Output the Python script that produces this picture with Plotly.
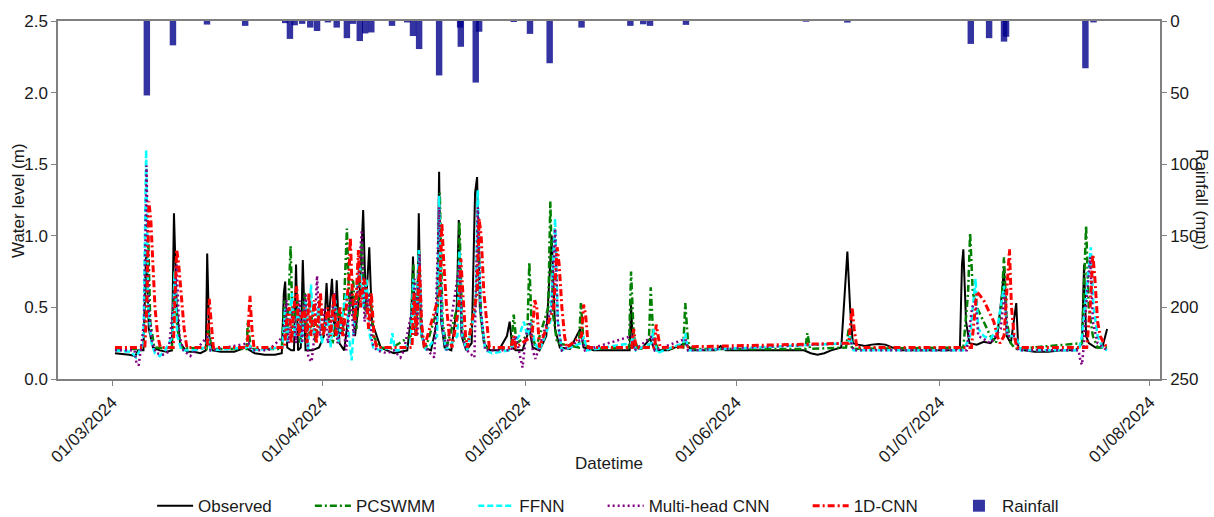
import pandas as pd
import plotly.graph_objects as go

# ---------------- data (day offsets from 2024-03-01) ----------------
obs_days = [0.4, 1.5, 2.5, 3.4, 3.8, 4.6, 5.0, 5.4, 6.0, 7.0, 8.0, 8.8, 9.1, 9.5, 10.0, 11.0, 12.0, 13.0, 13.8, 14.0,
            14.3, 14.8, 16.0, 18.0, 19.6, 20.3, 21.0, 22.5, 24.0, 25.0, 25.3, 25.5, 25.8, 26.4, 26.8, 27.1, 27.4, 27.8,
            28.1, 28.5, 29.5, 30.5, 31.2, 31.6, 31.9, 32.4, 32.8, 33.1, 33.5, 34.2, 35.3, 35.8, 36.5, 37.0, 37.4, 37.9,
            38.3, 39.0, 39.6, 40.5, 41.5, 42.5, 43.5, 44.1, 44.35, 44.7, 45.0, 45.2, 45.5, 46.0, 47.0, 47.9, 48.2, 48.5,
            49.0, 50.0, 50.8, 51.1, 51.5, 52.2, 53.0, 53.5, 53.8, 54.2, 54.8, 55.7, 57.0, 58.2, 58.6, 59.0, 59.5, 60.5,
            61.5, 62.0, 63.0, 64.0, 64.8, 65.3, 66.0, 67.5, 69.0, 69.5, 71.0, 74.0, 76.3, 76.5, 76.8, 78.0, 79.3, 80.0,
            82.0, 84.5, 85.5, 89.0, 89.7, 90.5, 95.0, 100.0, 102.0, 103.0, 104.0, 105.0, 106.0, 107.5, 108.0, 108.4,
            108.8, 109.2, 110.0, 111.0, 112.0, 113.0, 114.0, 115.0, 116.5, 120.0, 124.0, 125.0, 125.3, 125.5, 125.9,
            126.4, 127.5, 128.5, 129.5, 130.5, 131.2, 131.5, 131.9, 132.5, 133.0, 133.3, 133.6, 134.5, 136.0, 138.0,
            140.0, 142.0, 142.5, 143.0, 143.3, 143.6, 144.0, 145.0, 146.0, 146.5, 146.7]
obs_vals = [0.18, 0.175, 0.17, 0.16, 0.2, 0.2, 0.9, 0.35, 0.22, 0.2, 0.19, 0.2, 1.157, 0.5, 0.25, 0.19, 0.19, 0.18, 0.2,
            0.877, 0.3, 0.2, 0.19, 0.19, 0.22, 0.2, 0.18, 0.17, 0.17, 0.18, 0.6, 0.68, 0.22, 0.2, 0.2, 0.8, 0.2, 0.22,
            0.83, 0.2, 0.2, 0.22, 0.3, 0.67, 0.4, 0.7, 0.3, 0.69, 0.25, 0.2, 0.62, 0.3, 0.6, 1.18, 0.5, 0.92, 0.4, 0.3,
            0.22, 0.2, 0.18, 0.19, 0.2, 0.45, 0.855, 0.3, 0.5, 1.157, 0.35, 0.22, 0.2, 0.4, 1.447, 0.4, 0.22, 0.2, 0.5,
            1.11, 0.3, 0.2, 0.25, 1.3, 1.41, 0.5, 0.25, 0.2, 0.2, 0.3, 0.4, 0.22, 0.2, 0.2, 0.35, 0.22, 0.2, 0.3, 1.0,
            0.35, 0.22, 0.21, 0.35, 0.22, 0.2, 0.2, 0.2, 0.52, 0.22, 0.21, 0.28, 0.2, 0.2, 0.25, 0.2, 0.2, 0.23, 0.2,
            0.2, 0.2, 0.2, 0.18, 0.17, 0.18, 0.2, 0.22, 0.6, 0.89, 0.5, 0.25, 0.24, 0.23, 0.24, 0.245, 0.24, 0.22, 0.2,
            0.2, 0.2, 0.22, 0.8, 0.906, 0.4, 0.25, 0.24, 0.26, 0.25, 0.3, 0.6, 0.78, 0.3, 0.25, 0.45, 0.53, 0.22, 0.2,
            0.19, 0.19, 0.2, 0.2, 0.22, 0.25, 0.8, 0.3, 0.25, 0.22, 0.22, 0.3, 0.35]

pcswmm_days = [0.4, 4.6, 5.0, 5.3, 5.6, 6.2, 8.8, 9.2, 9.6, 10.2, 13.9, 14.2, 14.6, 19.8, 20.0, 20.4, 25.0, 25.4, 25.8,
               26.3, 26.6, 27.3, 27.7, 28.4, 28.8, 29.5, 30.0, 30.6, 31.0, 32.0, 32.5, 33.4, 34.0, 34.6, 35.0, 35.5,
               36.0, 36.8, 37.3, 38.0, 38.5, 39.5, 41.0, 44.0, 44.4, 44.8, 45.2, 45.6, 46.2, 48.0, 48.3, 48.7, 49.3,
               50.9, 51.2, 51.6, 52.3, 53.7, 54.0, 54.4, 55.0, 58.8, 59.2, 59.6, 61.2, 61.5, 61.9, 62.5, 64.3, 64.6,
               65.0, 65.6, 68.8, 69.1, 69.5, 70.5, 76.2, 76.5, 76.9, 77.5, 79.1, 79.4, 79.8, 80.5, 84.2, 84.5, 84.9,
               85.5, 102.2, 102.5, 102.9, 108.2, 108.6, 109.1, 125.5, 126.2, 126.5, 126.9, 127.5, 128.5, 129.5, 130.3,
               131.1, 131.5, 131.9, 132.5, 133.2, 143.0, 143.3, 143.6, 144.0, 144.6, 145.3, 146.7]
pcswmm_vals = [0.21, 0.21, 0.5, 1.0, 0.4, 0.22, 0.21, 0.75, 0.35, 0.22, 0.21, 0.35, 0.21, 0.21, 0.41, 0.21, 0.21, 0.55,
               0.3, 0.93, 0.35, 0.55, 0.25, 0.6, 0.25, 0.45, 0.25, 0.55, 0.3, 0.45, 0.25, 0.5, 0.3, 1.05, 0.45, 0.7,
               0.35, 0.95, 0.45, 0.6, 0.3, 0.22, 0.21, 0.3, 0.8, 0.3, 0.9, 0.3, 0.21, 0.5, 1.3, 0.4, 0.22, 0.5, 1.1,
               0.35, 0.21, 0.6, 1.0, 0.4, 0.22, 0.21, 0.45, 0.25, 0.3, 0.815, 0.3, 0.22, 0.5, 1.24, 0.45, 0.25, 0.22,
               0.53, 0.25, 0.21, 0.22, 0.75, 0.3, 0.21, 0.22, 0.64, 0.28, 0.21, 0.22, 0.53, 0.26, 0.21, 0.21, 0.32,
               0.21, 0.22, 0.35, 0.21, 0.22, 0.6, 1.02, 0.6, 0.5, 0.4, 0.3, 0.25, 0.5, 0.85, 0.4, 0.25, 0.21, 0.25,
               0.7, 1.07, 0.5, 0.3, 0.22, 0.22]

ffnn_days = [0.4, 2.8, 3.5, 4.0, 4.6, 5.0, 5.3, 5.8, 6.3, 7.0, 7.8, 8.9, 9.2, 9.6, 10.2, 12.0, 13.8, 14.1, 14.5, 19.8,
             20.1, 20.5, 25.1, 25.5, 25.8, 26.5, 26.9, 27.5, 27.9, 28.5, 28.9, 29.3, 29.7, 30.4, 30.9, 31.7, 32.2,
             32.9, 33.3, 34.5, 34.9, 35.3, 35.8, 36.5, 37.0, 37.5, 38.0, 38.5, 39.5, 41.0, 41.3, 41.7, 42.5, 44.0,
             44.4, 44.8, 45.2, 45.6, 46.3, 47.9, 48.2, 48.6, 49.2, 50.9, 51.2, 51.6, 52.3, 53.6, 53.9, 54.3, 55.0,
             56.0, 58.5, 59.3, 60.0, 60.7, 61.2, 61.8, 62.3, 63.0, 64.6, 65.3, 65.7, 66.3, 69.2, 69.5, 70.0, 76.5,
             76.8, 77.2, 79.5, 79.8, 80.3, 84.2, 84.5, 84.9, 86.0, 108.5, 108.8, 109.3, 125.5, 126.5, 127.3, 127.7,
             128.5, 129.5, 130.5, 131.5, 132.0, 133.0, 133.4, 134.0, 142.5, 143.0, 144.3, 144.7, 145.3, 146.0, 146.7]
ffnn_vals = [0.2, 0.19, 0.15, 0.2, 0.25, 1.6, 0.5, 0.25, 0.18, 0.16, 0.2, 0.3, 0.75, 0.3, 0.2, 0.2, 0.22, 0.3, 0.2,
             0.22, 0.25, 0.2, 0.22, 0.5, 0.25, 0.6, 0.3, 0.5, 0.25, 0.55, 0.2, 0.66, 0.3, 0.5, 0.25, 0.45, 0.22,
             0.55, 0.25, 0.6, 0.3, 0.13, 0.5, 0.8, 0.5, 0.7, 0.3, 0.22, 0.2, 0.22, 0.32, 0.2, 0.2, 0.25, 0.7, 0.3,
             0.9, 0.3, 0.2, 0.3, 1.28, 0.4, 0.2, 0.3, 0.9, 0.3, 0.2, 0.5, 1.32, 0.5, 0.2, 0.18, 0.2, 0.25, 0.3, 0.4,
             0.3, 0.4, 0.25, 0.2, 0.4, 1.12, 0.4, 0.2, 0.25, 0.3, 0.2, 0.25, 0.3, 0.2, 0.25, 0.35, 0.18, 0.25, 0.32,
             0.2, 0.2, 0.25, 0.3, 0.2, 0.2, 0.3, 0.7, 0.35, 0.3, 0.28, 0.35, 0.65, 0.3, 0.3, 0.28, 0.2, 0.2, 0.3,
             0.92, 0.5, 0.3, 0.22, 0.2]

mhcnn_days = [0.4, 3.3, 3.6, 3.9, 4.2, 4.7, 5.05, 5.4, 5.9, 6.5, 7.5, 8.3, 9.2, 9.5, 9.9, 10.5, 11.5, 12.3, 14.1, 14.5,
              20.1, 20.5, 23.0, 25.3, 25.7, 26.0, 26.7, 27.1, 27.6, 28.0, 28.5, 28.9, 29.4, 29.8, 30.2, 30.6, 31.3,
              31.8, 32.8, 33.2, 34.0, 34.5, 35.1, 35.6, 36.0, 36.8, 37.2, 37.8, 38.3, 39.0, 40.5, 41.5, 42.5, 43.0,
              44.3, 44.6, 45.0, 45.3, 45.7, 46.5, 47.5, 48.2, 48.6, 49.3, 51.2, 51.6, 52.3, 53.4, 53.9, 54.3, 55.0,
              58.8, 59.5, 60.0, 60.5, 61.0, 61.6, 62.0, 62.4, 62.8, 64.8, 65.3, 65.7, 66.3, 69.3, 69.7, 76.6, 77.0,
              79.6, 80.0, 84.5, 84.9, 108.5, 108.8, 109.3, 126.0, 126.8, 127.3, 127.7, 128.5, 129.5, 131.0, 131.6,
              132.0, 133.2, 133.6, 142.5, 142.8, 143.0, 143.2, 143.6, 144.2, 144.6, 145.3, 146.7]
mhcnn_vals = [0.2, 0.2, 0.1, 0.1, 0.2, 0.4, 1.49, 0.5, 0.25, 0.18, 0.17, 0.19, 0.6, 0.8, 0.3, 0.2, 0.16, 0.2, 0.3, 0.2,
              0.25, 0.2, 0.2, 0.3, 0.55, 0.25, 0.5, 0.25, 0.55, 0.25, 0.6, 0.15, 0.12, 0.3, 0.72, 0.3, 0.5, 0.25,
              0.6, 0.25, 0.4, 0.2, 0.6, 0.3, 0.5, 1.04, 0.4, 0.6, 0.25, 0.2, 0.18, 0.2, 0.15, 0.2, 0.5, 0.7, 0.3,
              0.87, 0.3, 0.2, 0.15, 1.2, 0.4, 0.2, 0.8, 0.3, 0.2, 0.15, 1.2, 0.5, 0.2, 0.2, 0.3, 0.2, 0.08, 0.3,
              0.4, 0.2, 0.14, 0.2, 0.5, 1.05, 0.4, 0.2, 0.28, 0.2, 0.3, 0.2, 0.3, 0.2, 0.28, 0.2, 0.25, 0.28, 0.2,
              0.2, 0.5, 0.55, 0.3, 0.28, 0.25, 0.35, 0.6, 0.3, 0.3, 0.2, 0.2, 0.12, 0.1, 0.2, 0.5, 0.85, 0.4, 0.25,
              0.2]

cnn1d_days = [0.4, 4.8, 5.1, 5.4, 5.7, 6.0, 6.3, 6.7, 7.1, 9.0, 9.3, 9.5, 9.8, 10.2, 10.6, 11.0, 14.0, 14.3, 14.6,
              14.9, 19.9, 20.3, 20.6, 20.9, 25.4, 25.8, 26.1, 26.4, 26.9, 27.2, 27.5, 28.0, 28.3, 28.7, 29.0, 29.3,
              29.8, 30.1, 30.7, 31.1, 31.8, 32.2, 32.7, 33.0, 33.6, 34.0, 34.5, 34.9, 35.1, 35.4, 35.8, 36.3, 36.6,
              37.1, 37.4, 37.8, 38.2, 38.6, 39.0, 44.2, 44.5, 44.8, 45.1, 45.3, 45.6, 46.0, 48.3, 48.6, 48.9, 49.3,
              49.7, 50.1, 51.1, 51.4, 51.7, 52.1, 52.4, 53.8, 54.1, 54.4, 54.8, 55.2, 55.6, 58.8, 59.2, 59.5, 61.9,
              62.3, 62.6, 63.0, 65.1, 65.6, 65.9, 66.3, 66.7, 67.0, 69.2, 69.5, 69.8, 70.2, 76.6, 76.9, 77.2, 80.0,
              80.2, 80.5, 80.8, 108.6, 109.1, 109.4, 109.8, 126.7, 127.2, 127.5, 128.0, 128.5, 129.0, 129.5, 130.0,
              130.5, 130.9, 131.5, 132.0, 132.3, 132.6, 133.0, 133.4, 143.7, 144.2, 144.6, 144.9, 145.3, 145.7,
              146.2, 146.7]
cnn1d_vals = [0.22, 0.22, 0.5, 1.24, 1.1, 0.75, 0.5, 0.3, 0.22, 0.22, 0.6, 0.905, 0.8, 0.55, 0.35, 0.22, 0.22, 0.56,
              0.4, 0.22, 0.22, 0.58, 0.35, 0.22, 0.22, 0.45, 0.5, 0.25, 0.55, 0.65, 0.3, 0.45, 0.5, 0.25, 0.6, 0.3,
              0.55, 0.25, 0.6, 0.3, 0.5, 0.3, 0.6, 0.3, 0.5, 0.3, 0.5, 0.7, 0.99, 0.6, 0.4, 0.9, 0.5, 0.7, 0.65,
              0.35, 0.6, 0.3, 0.22, 0.22, 0.6, 0.3, 0.6, 0.79, 0.4, 0.22, 0.6, 1.09, 0.8, 0.5, 0.3, 0.22, 0.5, 0.84,
              0.6, 0.3, 0.22, 0.6, 1.12, 1.0, 0.6, 0.4, 0.22, 0.22, 0.3, 0.22, 0.3, 0.55, 0.5, 0.22, 0.5, 0.92, 0.8,
              0.5, 0.3, 0.22, 0.3, 0.52, 0.45, 0.22, 0.22, 0.35, 0.22, 0.22, 0.38, 0.3, 0.22, 0.25, 0.5, 0.35, 0.22,
              0.22, 0.5, 0.61, 0.58, 0.55, 0.5, 0.45, 0.4, 0.3, 0.25, 0.3, 0.7, 0.906, 0.5, 0.3, 0.22, 0.22, 0.5,
              0.87, 0.7, 0.4, 0.3, 0.25, 0.22]

rain_days = [5.1, 8.95, 13.97, 19.6, 25.5, 26.2, 26.9, 28.0, 29.2, 30.2, 31.8, 33.1, 34.6, 35.5, 36.5, 37.3, 38.2,
             41.25, 43.5, 44.35, 45.25, 48.2, 51.3, 51.4, 53.6, 54.1, 59.2, 61.6, 64.5, 69.2, 76.4, 78.3, 79.3, 84.6,
             102.3, 108.4, 126.6, 129.3, 131.5, 131.8, 143.5, 144.7]
rain_mm = [52, 17, 2.5, 3.4, 1.5, 12.5, 3, 2, 4.6, 7, 1, 4.6, 12, 2, 14, 8.7, 8, 3.4, 1, 10.5, 19.6, 38, 4.6, 18, 43,
           7.5, 0.7, 9, 29.5, 4.6, 3.4, 2.3, 3.4, 2.7, 0.5, 1.1, 16, 12, 14.4, 11, 33, 1]

series_names = ["Observed", "PCSWMM", "FFNN", "Multi-head CNN", "1D-CNN", "Rainfall"]

START = pd.Timestamp("2024-03-01")


def to_time(days):
    return START + pd.to_timedelta(days, unit="D")


FONT = "Liberation Sans, Arial, sans-serif"
TXT = "#1a1a1a"
AX = "#808080"
PAD = "\u00a0" * 7  # extra spacing between legend entries


def lg(name):
    return name + PAD


fig = go.Figure()
fig.add_trace(go.Scatter(x=to_time(obs_days), y=obs_vals, name=lg(series_names[0]), mode="lines",
                         line=dict(color="black", width=2)))
fig.add_trace(go.Scatter(x=to_time(pcswmm_days), y=pcswmm_vals, name=lg(series_names[1]), mode="lines",
                         line=dict(color="green", width=2.5, dash="7px,3px,2px,3px")))
fig.add_trace(go.Scatter(x=to_time(ffnn_days), y=ffnn_vals, name=lg(series_names[2]), mode="lines",
                         line=dict(color="cyan", width=2.5, dash="6px,3px")))
fig.add_trace(go.Scatter(x=to_time(mhcnn_days), y=mhcnn_vals, name=lg(series_names[3]), mode="lines",
                         line=dict(color="purple", width=2.5, dash="2px,3px")))
fig.add_trace(go.Scatter(x=to_time(cnn1d_days), y=cnn1d_vals, name=lg(series_names[4]), mode="lines",
                         line=dict(color="red", width=3, dash="7px,3px,2px,3px")))
fig.add_trace(go.Bar(x=to_time(rain_days), y=rain_mm, name=series_names[5], yaxis="y2",
                     width=0.95 * 86400000, marker=dict(color="rgba(0,0,139,0.8)", line=dict(width=0))))

fig.update_layout(
    width=1214, height=517,
    margin=dict(l=58, r=54, t=14, b=138),
    paper_bgcolor="white", plot_bgcolor="white",
    font=dict(family=FONT, size=17, color=TXT),
    showlegend=True,
    legend=dict(orientation="h", x=0.0854, xanchor="left", yref="container", y=0.021, yanchor="middle",
                itemwidth=36, font=dict(size=17), bgcolor="rgba(0,0,0,0)"),
    xaxis=dict(type="date", range=["2024-02-22", "2024-08-02 12:00"], tick0="2024-03-01", dtick="M1",
               tickformat="%d/%m/%Y", tickangle=-45, showgrid=False, zeroline=False,
               showline=True, linecolor=AX, linewidth=1.5, mirror=True,
               ticks="outside", ticklen=5, tickcolor=AX, tickfont=dict(size=17, color=TXT)),
    yaxis=dict(range=[0, 2.5], dtick=0.5, tickformat=".1f", showgrid=False, zeroline=False,
               showline=True, linecolor=AX, linewidth=1.5, ticks="outside", ticklen=5, tickcolor=AX,
               tickfont=dict(size=17, color=TXT)),
    yaxis2=dict(overlaying="y", side="right", range=[250, 0], dtick=50, showgrid=False, zeroline=False,
                showline=True, linecolor=AX, linewidth=1.5, ticks="outside", ticklen=5, tickcolor=AX,
                tickfont=dict(size=17, color=TXT)),
    annotations=[
        dict(text="Datetime", xref="paper", yref="paper", x=0.5, y=-0.2356, showarrow=False,
             xanchor="center", yanchor="middle", font=dict(size=17, color=TXT)),
        dict(text="Water level (m)", xref="paper", yref="paper", x=-0.0363, y=0.5, showarrow=False,
             textangle=-90, xanchor="center", yanchor="middle", font=dict(size=17, color=TXT)),
        dict(text="Rainfall (mm)", xref="paper", yref="paper", x=1.038, y=0.5, showarrow=False,
             textangle=90, xanchor="center", yanchor="middle", font=dict(size=17, color=TXT)),
    ],
)

fig.write_html("out.html")
